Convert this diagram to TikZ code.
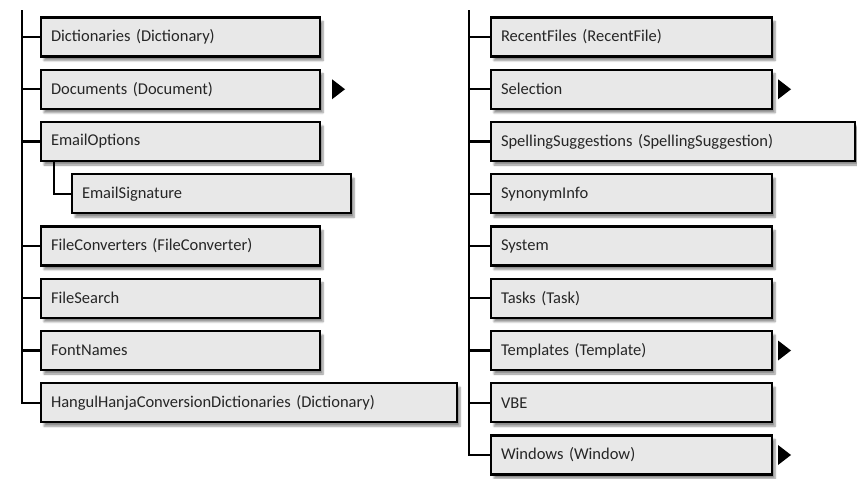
\documentclass[tikz,border=0pt]{standalone}
\usepackage{fontspec}
\setmainfont{Carlito}
\usetikzlibrary{positioning}
\usetikzlibrary{calc}
\usetikzlibrary{shadows.blur}
\tikzset{
  objbox/.style={rectangle, draw=black, line width=2.2pt, fill=black!9, anchor=west,
    outer sep=0pt, inner xsep=10pt, minimum height=39pt, text width=#1, align=left,
    text=black!85, font=\fontsize{16.5}{18}\selectfont,
    blur shadow={shadow xshift=3pt, shadow yshift=-4pt, shadow blur steps=6, shadow opacity=45}},
  objbox/.default=259pt,
  branch/.style={draw=black, line width=2.2pt},
  more/.style={fill=black}
}

\begin{document}
\begin{tikzpicture}[x=1pt, y=-1pt]
    \useasboundingbox (0,0) rectangle (857,479);

    % Left column
    \node[objbox] (dict) at (41,37) {Dictionaries (Dictionary)};
    \node[objbox, below=13.25pt of dict.south west, anchor=north west] (docs) {Documents (Document)};
    \node[objbox, below=13.25pt of docs.south west, anchor=north west] (email) {EmailOptions};
    \node[objbox, below right=13.25pt and 31pt of email.south west, anchor=north west] (emailsig) {EmailSignature};
    \node[objbox, below=65.5pt of email.south west, anchor=north west] (fileconv) {FileConverters (FileConverter)};
    \node[objbox, below=13.25pt of fileconv.south west, anchor=north west] (filesearch) {FileSearch};
    \node[objbox, below=13.25pt of filesearch.south west, anchor=north west] (fontnames) {FontNames};
    \node[objbox=396pt, below=13.25pt of fontnames.south west, anchor=north west] (hangul) {HangulHanjaConversionDictionaries (Dictionary)};

    % Right column
    \node[objbox=261pt] (recent) at (491,37) {RecentFiles (RecentFile)};
    \node[objbox=261pt, below=13.25pt of recent.south west, anchor=north west] (selection) {Selection};
    \node[objbox=344pt, below=13.25pt of selection.south west, anchor=north west] (spelling) {SpellingSuggestions (SpellingSuggestion)};
    \node[objbox=261pt, below=13.25pt of spelling.south west, anchor=north west] (synonym) {SynonymInfo};
    \node[objbox=261pt, below=13.25pt of synonym.south west, anchor=north west] (system) {System};
    \node[objbox=261pt, below=13.25pt of system.south west, anchor=north west] (tasks) {Tasks (Task)};
    \node[objbox=261pt, below=13.25pt of tasks.south west, anchor=north west] (templates) {Templates (Template)};
    \node[objbox=261pt, below=13.25pt of templates.south west, anchor=north west] (vbe) {VBE};
    \node[objbox=261pt, below=13.25pt of vbe.south west, anchor=north west] (windows) {Windows (Window)};

    % Tree lines
    \coordinate (ltop) at (22,10);
    \coordinate (rtop) at (469,10);
    \draw[branch] (ltop) |- (hangul.west);
    \draw[branch] (rtop) |- (windows.west);
    \foreach \n in {dict,docs,email,fileconv,filesearch,fontnames}
      \draw[branch] (\n.west) -- (\n.west -| ltop);
    \foreach \n in {recent,selection,spelling,synonym,system,tasks,templates,vbe}
      \draw[branch] (\n.west) -- (\n.west -| rtop);
    \coordinate (esplit) at ($(email.south west)+(13,0)$);
    \draw[branch] (esplit) |- (emailsig.west);

    % More markers
    \foreach \n/\d in {docs/12,selection/6,templates/6,windows/6}
      \fill[more] ([xshift=\d pt]\n.east) -- ++(0,-10) -- ++(13,10) -- ++(-13,10) -- cycle;
\end{tikzpicture}
\end{document}
